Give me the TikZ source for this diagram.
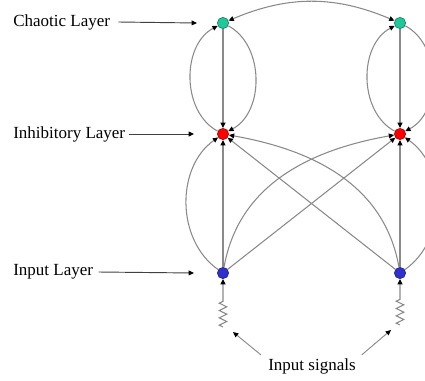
\documentclass[tikz,border=0pt]{standalone}
\usepackage{fontspec}
\setmainfont{Liberation Serif}
\usetikzlibrary{positioning,arrows.meta,decorations.pathmorphing}
\definecolor{chaos}{HTML}{1DC89A}
\definecolor{inhib}{HTML}{FF0000}
\definecolor{inpt}{HTML}{3030CC}
\definecolor{wire}{HTML}{8A8A8A}

\begin{document}
\begin{tikzpicture}[x=0.75pt, y=0.75pt, >={Triangle[length=4pt,width=3.6pt,black]},
    font=\fontsize{12.75}{15}\selectfont,
    n/.style={circle, inner sep=0pt, minimum size=8.5pt, draw=#1!55!black, fill=#1, line width=0.4pt},
    w/.style={draw=wire, line width=0.8pt, ->},
    lab/.style={anchor=west, inner sep=0pt},
    pointer/.style={draw=black!75, line width=0.7pt, ->}]
  \useasboundingbox (0,0) rectangle (425,380);

  % the six units
  \node[n=chaos] (c1) at (223,357) {};
  \node[n=chaos] (c2) at (400,357) {};
  \node[n=inhib] (h1) at (223,246) {};
  \node[n=inhib] (h2) at (400,246) {};
  \node[n=inpt]  (i1) at (223,107) {};
  \node[n=inpt]  (i2) at (400,107) {};

  % labels on the left
  \node[lab] (lc) at (13,358) {Chaotic Layer};
  \node[lab] (lh) at (13,246) {Inhibitory Layer};
  \node[lab] (li) at (13,108) {Input Layer};
  \coordinate (ec) at (197,357);
  \coordinate (eh) at (194,246);
  \coordinate (ei) at (194,107);
  \draw[pointer] ([xshift=6pt]lc.east) -- (ec);
  \draw[pointer] ([xshift=3pt]lh.east) -- (eh);
  \draw[pointer] ([xshift=4pt]li.east) -- (ei);

  % chaotic to inhibitory, loops
  \draw[w, <->] (c1) to[bend left=23] (c2);
  \foreach \c/\h in {c1/h1, c2/h2} {
    \draw[w] (\c) -- (\h);
    \draw[w] (\h) to[bend left=62] (\c);
    \draw[w] (\c) to[bend left=62] (\h);
  }

  % input to inhibitory
  \draw[w] (i1) -- (h1);
  \draw[w] (i2) -- (h2);
  \draw[w] (i1) to[bend left=55] (h1);
  \draw[w] (i2) to[bend right=55] (h2);
  \draw[w] (i1) -- (h2);
  \draw[w] (i2) -- (h1);
  \draw[w] (i1) to[out=80, in=190] (h2);
  \draw[w] (i2) to[out=100, in=-10] (h1);

  % input signals
  \coordinate (s1) at (223,53);
  \coordinate (z1) at (223,79);
  \coordinate (s2) at (400,55);
  \coordinate (z2) at (400,81);
  \draw[w] (s1) decorate[decoration={zigzag, segment length=5.5pt, amplitude=2.8pt}]{-- (z1)} -- (i1);
  \draw[w] (s2) decorate[decoration={zigzag, segment length=5.5pt, amplitude=2.8pt}]{-- (z2)} -- (i2);

  \node (sig) at (312,14) {Input signals};
  \coordinate (p1) at (233,48);
  \coordinate (p2) at (391,50);
  \draw[pointer, draw=wire] ([xshift=-2pt,yshift=-1pt]sig.north west) -- (p1);
  \draw[pointer, draw=wire] ([xshift=1pt,yshift=-1pt]sig.north east) -- (p2);
\end{tikzpicture}
\end{document}
